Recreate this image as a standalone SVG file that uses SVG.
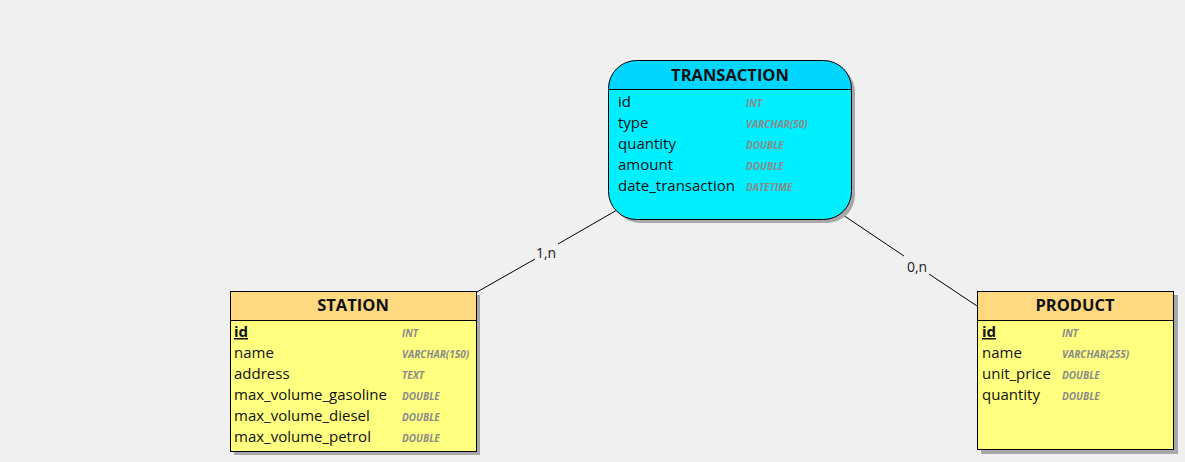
<svg xmlns="http://www.w3.org/2000/svg" width="1185" height="462" viewBox="0 0 1185 462">
<style>
.bg{fill:#f0f0f0}
.shadow{fill:#a8a8a8}
.edge{stroke:#000;stroke-width:1;fill:none}
.hdr{font-family:"Open Sans","Liberation Sans",sans-serif;font-weight:bold;font-size:16.5px;fill:#111;text-anchor:middle}
.fld{font-family:"Open Sans","Liberation Sans",sans-serif;font-size:15px;fill:#111}
.pk{font-weight:bold;text-decoration:underline}
.typ{font-family:"Open Sans","Liberation Sans",sans-serif;font-size:10px;font-style:italic;font-weight:bold;fill:#8a8a8a}
.lbl{font-family:"Open Sans","Liberation Sans",sans-serif;font-size:14px;fill:#222;text-anchor:middle}
.sep{stroke:#000;stroke-width:1}
</style>
<rect class="bg" x="0" y="0" width="1185" height="462"/>
<g id="connectors">
<line class="edge" x1="477" y1="292" x2="535" y2="259"/>
<line class="edge" x1="558" y1="244" x2="617" y2="210"/>
<text class="lbl" x="546" y="258">1,n</text>
<line class="edge" x1="840" y1="213" x2="904" y2="256"/>
<line class="edge" x1="929" y1="274" x2="977" y2="306"/>
<text class="lbl" x="917" y="272">0,n</text>
</g>
<g id="transaction">
<rect class="shadow" x="612" y="64" width="243" height="159" rx="28"/>
<clipPath id="ct"><rect x="608.5" y="60.5" width="243" height="159" rx="28"/></clipPath>
<g clip-path="url(#ct)">
<rect x="608" y="60" width="244" height="160" fill="#00efff"/>
<rect x="608" y="60" width="244" height="29" fill="#00d6ff"/>
</g>
<rect x="608.5" y="60.5" width="243" height="159" rx="28" fill="none" stroke="#000"/>
<line class="sep" x1="609" y1="89.5" x2="851" y2="89.5"/>
<text class="hdr" x="730" y="81">TRANSACTION</text>
<text class="fld" x="618" y="107">id</text><text class="typ" x="746" y="107">INT</text>
<text class="fld" x="618" y="128">type</text><text class="typ" x="746" y="128">VARCHAR(50)</text>
<text class="fld" x="618" y="149">quantity</text><text class="typ" x="746" y="149">DOUBLE</text>
<text class="fld" x="618" y="170">amount</text><text class="typ" x="746" y="170">DOUBLE</text>
<text class="fld" x="618" y="191">date_transaction</text><text class="typ" x="746" y="191">DATETIME</text>
</g>
<g id="station">
<rect class="shadow" x="234" y="295" width="246" height="160"/>
<rect x="230.5" y="291.5" width="246" height="160" fill="#ffff80" stroke="#000"/>
<rect x="231" y="292" width="245" height="28" fill="#ffd980"/>
<line class="sep" x1="231" y1="320.5" x2="476" y2="320.5"/>
<text class="hdr" x="353" y="311">STATION</text>
<text class="fld pk" x="234" y="337">id</text><text class="typ" x="402" y="337">INT</text>
<text class="fld" x="234" y="358">name</text><text class="typ" x="402" y="358">VARCHAR(150)</text>
<text class="fld" x="234" y="379">address</text><text class="typ" x="402" y="379">TEXT</text>
<text class="fld" x="234" y="400">max_volume_gasoline</text><text class="typ" x="402" y="400">DOUBLE</text>
<text class="fld" x="234" y="421">max_volume_diesel</text><text class="typ" x="402" y="421">DOUBLE</text>
<text class="fld" x="234" y="442">max_volume_petrol</text><text class="typ" x="402" y="442">DOUBLE</text>
</g>
<g id="product">
<rect class="shadow" x="981" y="295" width="197" height="159"/>
<rect x="977.5" y="291.5" width="196" height="158" fill="#ffff80" stroke="#000"/>
<rect x="978" y="292" width="195" height="28" fill="#ffd980"/>
<line class="sep" x1="978" y1="320.5" x2="1173" y2="320.5"/>
<text class="hdr" x="1075" y="311">PRODUCT</text>
<text class="fld pk" x="982" y="337">id</text><text class="typ" x="1062" y="337">INT</text>
<text class="fld" x="982" y="358">name</text><text class="typ" x="1062" y="358">VARCHAR(255)</text>
<text class="fld" x="982" y="379">unit_price</text><text class="typ" x="1062" y="379">DOUBLE</text>
<text class="fld" x="982" y="400">quantity</text><text class="typ" x="1062" y="400">DOUBLE</text>
</g>
</svg>
